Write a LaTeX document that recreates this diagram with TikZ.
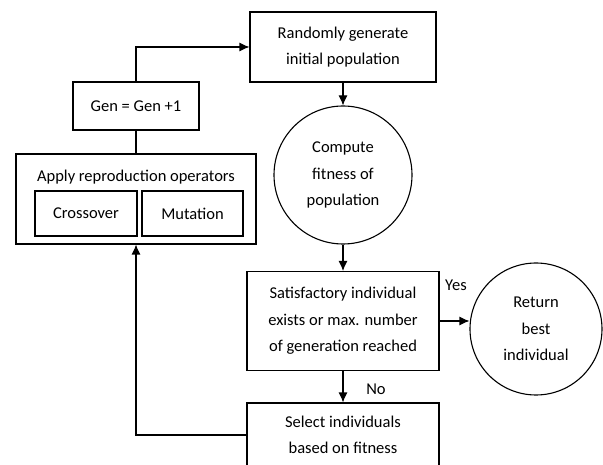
\documentclass[tikz,border=0pt]{standalone}
\usepackage{fontspec}
\setmainfont{Carlito}
\usepackage{tikz}
\usetikzlibrary{calc,positioning,arrows.meta}

\begin{document}
\begin{tikzpicture}[x=1pt, y=-1pt,
  block/.style={draw, line width=1.1pt, align=center, inner sep=0pt, font=\fontsize{16.5}{26.5}\selectfont},
  term/.style={draw, circle, line width=1.1pt, align=center, inner sep=0pt, font=\fontsize{16.5}{26.5}\selectfont},
  arrow/.style={-{Latex[length=10pt,width=9pt]}, line width=1.1pt},
  link/.style={line width=1.1pt},
  lab/.style={font=\fontsize{16.5}{20}\selectfont, inner sep=1pt}
]
\useasboundingbox (0,0) rectangle (603,465);
\node[block, minimum width=186pt, minimum height=70pt] (rand) at (343,47) {Randomly generate\\initial population};
\node[term, minimum size=138pt] (comp) at (343,175) {Compute\\fitness of\\population};
\node[block, minimum width=192pt, minimum height=99pt] (sat) at (343,321) {Satisfactory individual\\exists or max. number\\of generation reached};
\node[term, minimum size=132pt] (ret) at (536,329) {Return\\best\\individual};
\node[block, minimum width=192pt, minimum height=64pt] (sel) at (343,435) {Select individuals\\based on fitness};
\node[block, minimum width=126pt, minimum height=48pt] (gen) at (136,106) {Gen = Gen +1};
\node[block, minimum width=240pt, minimum height=90pt] (app) at (136,199) {};
\node[lab] (apptxt) at (136,177) {Apply reproduction operators};
\node[block, minimum width=102pt, minimum height=45pt] (cross) at (86,213.5) {Crossover};
\node[block, minimum width=101pt, minimum height=45pt] (mut) at (192.5,213.5) {Mutation};

\draw[arrow] (gen.north) |- (rand.west);
\draw[link] (gen.south) -- (app.north);
\draw[arrow] (rand) -- (comp);
\draw[arrow] (comp) -- (sat);
\draw[arrow] (sat.east) -- (ret.west |- sat.east);
\node[lab] (yes) at (456,285) {Yes};
\draw[arrow] (sat) -- (sel);
\node[lab] (no) at (376,389) {No};
\draw[arrow] (sel.west) -| (app.south);
\end{tikzpicture}
\end{document}
